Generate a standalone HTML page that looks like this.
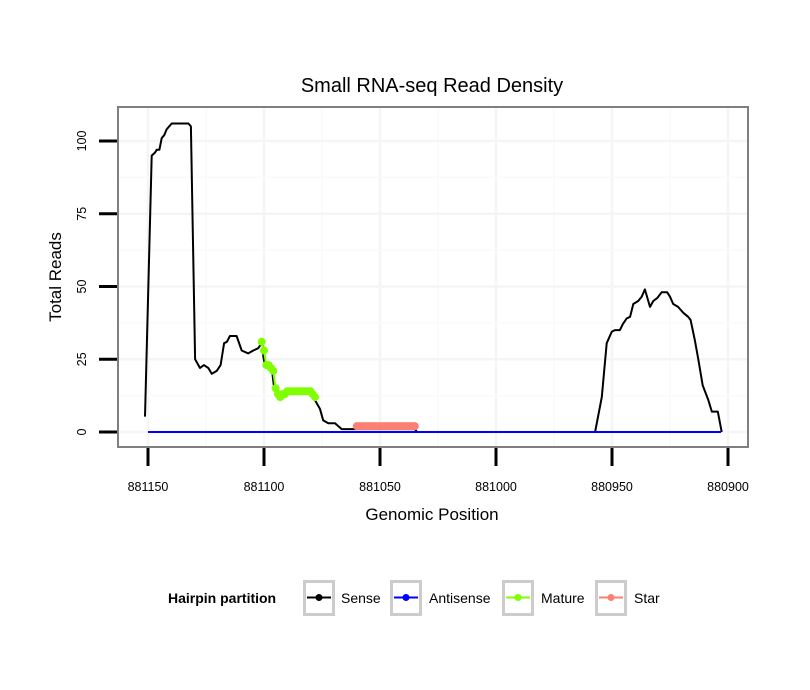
<!DOCTYPE html>
<html><head><meta charset="utf-8"><style>
body{margin:0;background:#fff;}
svg{display:block;font-family:"Liberation Sans",sans-serif;}
</style></head><body>
<svg id="chart" width="810" height="690" xmlns="http://www.w3.org/2000/svg">
<rect width="810" height="690" fill="#fff"/>
<text x="432" y="92" font-size="20" text-anchor="middle">Small RNA-seq Read Density</text>
<g id="grid"></g>
<g id="marks"></g>
<rect x="118" y="107" width="630" height="340" fill="none" stroke="#7f7f7f" stroke-width="2"/>
<g id="axes"></g>
<text x="432" y="520" font-size="17" text-anchor="middle">Genomic Position</text>
<text transform="translate(61,277) rotate(-90)" font-size="17" text-anchor="middle">Total Reads</text>
<g>
<text x="168" y="603" font-size="14" font-weight="bold">Hairpin partition</text>
<g><rect x="304.5" y="581.5" width="29" height="33" fill="#fff" stroke="#cccccc" stroke-width="3"/><line x1="307" y1="597.5" x2="331" y2="597.5" stroke="#000" stroke-width="2"/><circle cx="319" cy="597.5" r="3.5" fill="#000"/><text x="341" y="603" font-size="14">Sense</text></g>
<g><rect x="391.5" y="581.5" width="29" height="33" fill="#fff" stroke="#cccccc" stroke-width="3"/><line x1="394" y1="597.5" x2="418" y2="597.5" stroke="#0000ff" stroke-width="2"/><circle cx="406" cy="597.5" r="3.5" fill="#0000ff"/><text x="429" y="603" font-size="14">Antisense</text></g>
<g><rect x="503.5" y="581.5" width="29" height="33" fill="#fff" stroke="#cccccc" stroke-width="3"/><line x1="506" y1="597.5" x2="530" y2="597.5" stroke="#7fff00" stroke-width="2"/><circle cx="518" cy="597.5" r="3.5" fill="#7fff00"/><text x="541" y="603" font-size="14">Mature</text></g>
<g><rect x="596.5" y="581.5" width="29" height="33" fill="#fff" stroke="#cccccc" stroke-width="3"/><line x1="599" y1="597.5" x2="623" y2="597.5" stroke="#fa8072" stroke-width="2"/><circle cx="611" cy="597.5" r="3.5" fill="#fa8072"/><text x="634" y="603" font-size="14">Star</text></g>
</g>
</svg>
<script>
const xTicks=[881150,881100,881050,881000,880950,880900];
const yTicks=[0,25,50,75,100];
const sensePos=[881151.3,881148.4,881147,881146.2,881145.1,881144.1,881143,881142,881139.8,881132.6,881131.5,881129.7,881127.6,881125.9,881124,881122.5,881120.4,881118.7,881117.2,881116,881114.7,881111.8,881109.6,881106.8,881104.6,881102.5,881100.6,881100.3,881099.6,881096.7,881095.7,881093.8,881088.8,881080.2,881078.8,881075.9,881074.5,881072.3,881069.4,881066.5,881060,881035,881034,880957.3,880954.4,880952.3,880950.1,880948.7,880946.6,880945.4,880943.7,880942.2,880940.8,880938.7,880937.2,880935.8,880933.6,880932.2,880930.5,880928.6,880926.2,880925,880923.6,880921.5,880919.3,880917.2,880916.1,880914.3,880912.8,880910.9,880908.5,880907,880904.4,880902.7];
const senseVal=[5.3,95,96,97,97,101,102,104,106,106,105,25,22,23,22,20,21,23,30.5,31,33,33,28,27,28,28.8,31,26,23,22,15.6,12.7,14.4,14.4,12,8,4,3,3,1,1,1,0,0,12,30.5,34.5,35,35,37,39,39.6,44,45,46.5,49,43,45,46,48,48,46.5,44,43,41,39.6,38.5,31.6,25,16,11,7,7,0];
const antiPos=[881150,880903];
const antiVal=[0,0];
const maturePos=[881101,881100,881099,881098,881097,881096,881095,881094,881093,881092,881091,881090,881089,881088,881087,881086,881085,881084,881083,881082,881081,881080,881079,881078];
const matureVal=[31,28,23,23,22,21,15,13,12,13,13,14,14,14,14,14,14,14,14,14,14,14,13,12];
const starPos=[881060,881059,881058,881057,881056,881055,881054,881053,881052,881051,881050,881049,881048,881047,881046,881045,881044,881043,881042,881041,881040,881039,881038,881037,881036,881035];
const starVal=[2,2,2,2,2,2,2,2,2,2,2,2,2,2,2,2,2,2,2,2,2,2,2,2,2,2];

const NS="http://www.w3.org/2000/svg";
const xS=v=>148+(881150-v)*2.32;
const yS=v=>432-v*2.91;
function mk(tag,attrs,parent){const e=document.createElementNS(NS,tag);for(const k in attrs)e.setAttribute(k,attrs[k]);parent.appendChild(e);return e;}
const grid=document.getElementById('grid'),marks=document.getElementById('marks'),axes=document.getElementById('axes');
for(let i=0;i<xTicks.length;i++){
  const l=mk('line',{x1:xS(xTicks[i]),x2:xS(xTicks[i]),y1:107,y2:447,stroke:'#f5f5f5','stroke-width':2.5},grid);
  
  
  if(i<xTicks.length-1){const m=(xTicks[i]+xTicks[i+1])/2;
    const l2=mk('line',{x1:xS(m),x2:xS(m),y1:107,y2:447,stroke:'#fafafa','stroke-width':1.5},grid);
    
    }
  const t=mk('line',{x1:xS(xTicks[i]),x2:xS(xTicks[i]),y1:448,y2:466,stroke:'#000','stroke-width':3},axes);
  
  
  const tx=mk('text',{x:xS(xTicks[i]),y:491,'font-size':12.5,'text-anchor':'middle'},axes);tx.textContent=xTicks[i];
  
  
}
for(let i=0;i<yTicks.length;i++){
  const l=mk('line',{x1:118,x2:748,y1:yS(yTicks[i]),y2:yS(yTicks[i]),stroke:'#f5f5f5','stroke-width':2.5},grid);
  
  
  if(i<yTicks.length-1){const m=(yTicks[i]+yTicks[i+1])/2;
    const l2=mk('line',{x1:118,x2:748,y1:yS(m),y2:yS(m),stroke:'#fafafa','stroke-width':1.5},grid);
    
    }
  const t=mk('line',{x1:99,x2:117,y1:yS(yTicks[i]),y2:yS(yTicks[i]),stroke:'#000','stroke-width':3},axes);
  
  
  const tx=mk('text',{transform:`translate(86,${yS(yTicks[i])}) rotate(-90)`,'font-size':12.5,'text-anchor':'middle'},axes);tx.textContent=yTicks[i];
  
  
}
function line(P,V,color,name){
  const d=P.map((p,i)=>(i?'L':'M')+xS(p).toFixed(1)+','+yS(V[i]).toFixed(1)).join('');
  const e=mk('path',{d:d,fill:'none',stroke:color,'stroke-width':2,'stroke-linejoin':'round'},marks);
  
  
}
function pts(P,V,color,name){
  line(P,V,color,name+'-line');
  P.forEach((p,i)=>{const c=mk('circle',{cx:xS(p),cy:yS(V[i]),r:4,fill:color},marks);
    
    });
}
line(sensePos,senseVal,'#000','sense-line');
line(antiPos,antiVal,'#0000ff','antisense-line');
pts(maturePos,matureVal,'#7fff00','mature');
pts(starPos,starVal,'#fa8072','star');
</script>
</body></html>
